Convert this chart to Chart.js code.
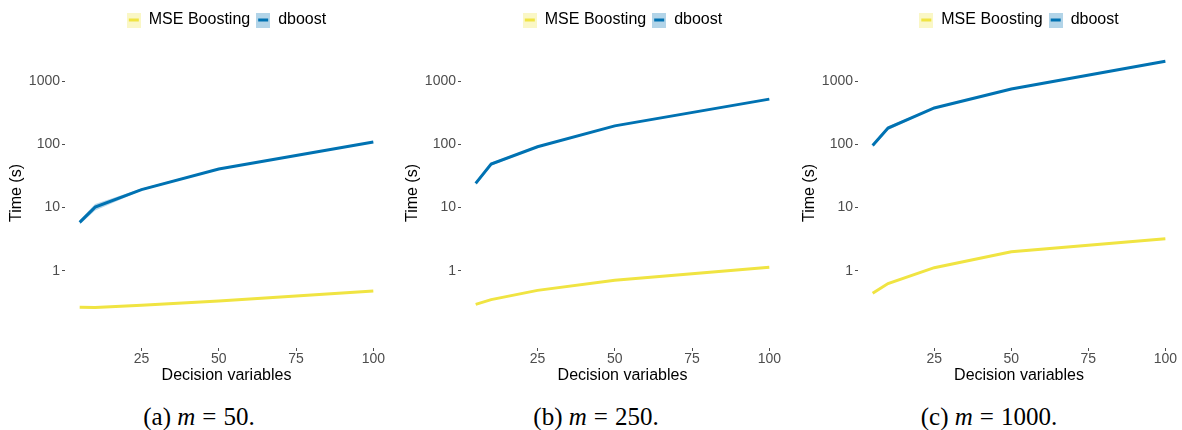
<!DOCTYPE html>
<html>
<head>
<meta charset="utf-8">
<script src="https://cdn.jsdelivr.net/npm/chart.js@4.4.1/dist/chart.umd.min.js"></script>
<style>
  html, body { margin: 0; padding: 0; background: #fff; }
  body { width: 1182px; height: 430px; position: relative; overflow: hidden; }
  canvas { position: absolute; top: 0; }
  .cap { position: absolute; top: 404px; width: 300px; text-align: center;
         font-family: "Liberation Serif", "DejaVu Serif", serif; font-size: 25px;
         line-height: 25px; color: #000; white-space: nowrap; }
  .cap i { font-style: italic; }
  .sp { display: inline-block; width: 7px; }
</style>
</head>
<body>
<canvas id="ca" width="381" height="390" style="left:7px"></canvas>
<canvas id="cb" width="381" height="390" style="left:403px"></canvas>
<canvas id="cc" width="380" height="390" style="left:800px"></canvas>
<div class="cap" style="left:49px">(a) <i>m</i><span class="sp"></span>=<span class="sp"></span>50.</div>
<div class="cap" style="left:446px">(b) <i>m</i><span class="sp"></span>=<span class="sp"></span>250.</div>
<div class="cap" style="left:839px">(c) <i>m</i><span class="sp"></span>=<span class="sp"></span>1000.</div>
<script>
// ---- data ----
const xVals = [5, 10, 25, 50, 100];
const xTicks = [25, 50, 75, 100];
const yTicks = [1, 10, 100, 1000];
const seriesNames = ["MSE Boosting", "dboost"];

const mseA = [0.265, 0.262, 0.285, 0.334, 0.48];
const dboostA = [5.85, 10.2, 19.3, 41, 109];
const dboostLowA = [5.4, 9.0, 18.6, 40, 106];
const dboostHighA = [6.3, 11.4, 20.0, 42, 112];

const mseB = [0.294, 0.35, 0.49, 0.71, 1.14];
const dboostB = [24.2, 49, 92, 197, 522];
const dboostLowB = [22.6, 46, 90, 194, 515];
const dboostHighB = [25.8, 52, 94, 200, 530];

const mseC = [0.44, 0.63, 1.12, 2.0, 3.22];
const dboostC = [96, 182, 378, 757, 2076];
const dboostLowC = [90, 170, 370, 748, 2050];
const dboostHighC = [102, 195, 386, 766, 2100];

// ---- styles ----
const YELLOW = '#F0E442', YELLOW_FILL = 'rgba(240,228,66,0.3)';
const BLUE = '#0072B2', BLUE_FILL = 'rgba(0,114,178,0.3)';
const SANS = '"Liberation Sans", Arial, Helvetica, sans-serif';

function keyImage(fill, line) {
  const c = document.createElement('canvas');
  c.width = 14; c.height = 15;
  const g = c.getContext('2d');
  g.fillStyle = '#fff'; g.fillRect(0, 0, 14, 15);
  g.fillStyle = fill; g.fillRect(0, 0, 14, 15);
  g.strokeStyle = line; g.lineWidth = 3;
  g.beginPath(); g.moveTo(2, 7.5); g.lineTo(12, 7.5); g.stroke();
  return c;
}
const keyYellow = keyImage(YELLOW_FILL, YELLOW);
const keyBlue = keyImage(BLUE_FILL, BLUE);

function pts(vals) { return xVals.map((x, i) => ({x: x, y: vals[i]})); }

function makeChart(id, mse, dboost, low, high) {
  new Chart(document.getElementById(id), {
    type: 'line',
    data: {
      datasets: [
        { label: 'low', data: pts(low), borderWidth: 0, borderColor: 'rgba(0,0,0,0)',
          pointRadius: 0, fill: false, order: 3 },
        { label: 'high', data: pts(high), borderWidth: 0, borderColor: 'rgba(0,0,0,0)',
          pointRadius: 0, fill: '-1', backgroundColor: BLUE_FILL, order: 3 },
        { label: seriesNames[0], data: pts(mse), borderColor: YELLOW, borderWidth: 3,
          pointRadius: 0, tension: 0, fill: false, order: 2 },
        { label: seriesNames[1], data: pts(dboost), borderColor: BLUE, borderWidth: 3,
          pointRadius: 0, tension: 0, fill: false, order: 1 }
      ]
    },
    options: {
      responsive: false,
      animation: false,
      devicePixelRatio: 1,
      layout: { padding: { top: 6, left: 0, right: 0, bottom: 0 } },
      plugins: {
        tooltip: { enabled: false },
        filler: { propagate: false },
        legend: {
          position: 'top',
          fullSize: false,
          labels: {
            usePointStyle: true,
            boxWidth: 14,
            boxHeight: 15,
            padding: 6,
            color: '#1a1a1a',
            font: { family: SANS, size: 16 },
            generateLabels: () => [
              { text: seriesNames[0], pointStyle: keyYellow, fillStyle: YELLOW_FILL,
                strokeStyle: YELLOW, lineWidth: 0, hidden: false, datasetIndex: 2 },
              { text: seriesNames[1], pointStyle: keyBlue, fillStyle: BLUE_FILL,
                strokeStyle: BLUE, lineWidth: 0, hidden: false, datasetIndex: 3 }
            ]
          }
        }
      },
      scales: {
        x: {
          type: 'linear',
          min: 0.25, max: 104.75,
          afterBuildTicks: s => { s.ticks = xTicks.map(v => ({value: v})); },
          afterFit: s => { s.height = 42; },
          ticks: { color: '#4d4d4d', font: { family: SANS, size: 14 }, padding: 0,
                   maxRotation: 0, callback: v => String(v) },
          grid: { display: true, drawOnChartArea: false, drawTicks: true, tickLength: 3,
                  color: '#4d4d4d', lineWidth: 1 },
          border: { display: false },
          title: { display: true, text: 'Decision variables', color: '#000',
                   font: { family: SANS, size: 16 }, padding: { top: 0, bottom: 5 } }
        },
        y: {
          type: 'logarithmic',
          min: 0.06, max: 4845,
          afterBuildTicks: s => { s.ticks = yTicks.map(v => ({value: v})); },
          afterFit: s => { s.width = 58; },
          ticks: { color: '#4d4d4d', font: { family: SANS, size: 14 }, padding: 2,
                   callback: v => String(v) },
          grid: { display: true, drawOnChartArea: false, drawTicks: true, tickLength: 3,
                  color: '#4d4d4d', lineWidth: 1 },
          border: { display: false },
          title: { display: true, text: 'Time (s)', color: '#000',
                   font: { family: SANS, size: 16 }, padding: { top: 0, bottom: 0 } }
        }
      }
    }
  });
}

makeChart('ca', mseA, dboostA, dboostLowA, dboostHighA);
makeChart('cb', mseB, dboostB, dboostLowB, dboostHighB);
makeChart('cc', mseC, dboostC, dboostLowC, dboostHighC);
</script>
</body>
</html>
